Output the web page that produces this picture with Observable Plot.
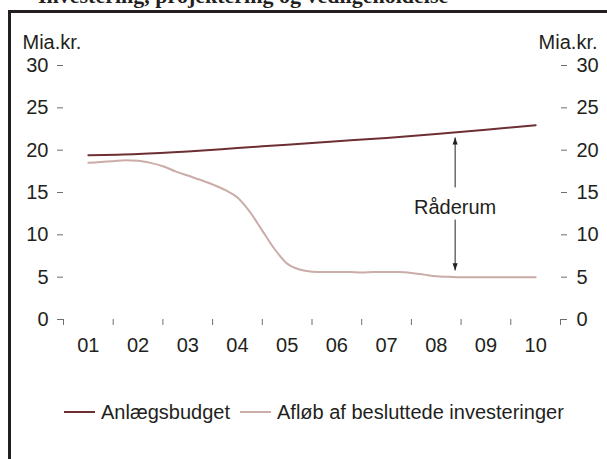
<!DOCTYPE html>
<html>
<head>
<meta charset="utf-8">
<script src="https://cdn.jsdelivr.net/npm/d3@7"></script>
<script src="https://cdn.jsdelivr.net/npm/@observablehq/plot@0.6"></script>
<style>
  html, body { margin: 0; padding: 0; background: #fff; }
  body { width: 607px; height: 459px; overflow: hidden; position: relative;
         font-family: "Liberation Sans", Arial, sans-serif; color: #231f20; }
  #title { position: absolute; left: 38px; top: -15px; font: bold 22px "Liberation Serif", serif;
           line-height: 22px; white-space: nowrap; color: #231f20; }
  #frame { position: absolute; left: 8px; top: 10px; width: 700px; height: 600px;
           border-left: 3px solid #231f20; border-top: 3px solid #231f20; box-sizing: border-box; }
  #chart { position: absolute; left: 0; top: 0; }
  #legend { position: absolute; left: 64px; top: 400px; display: flex; align-items: center;
            font-size: 20px; line-height: 24px; white-space: nowrap; color: #231f20; }
  .item { display: flex; align-items: center; margin-right: 10px; }
  .sw { width: 31px; height: 0; border-top: 2px solid; margin-right: 6px; }
</style>
</head>
<body>
<div id="title"></div>
<div id="frame"></div>
<div id="chart"></div>
<div id="legend"></div>
<script>
// ---- data ----
const titleText = "Investering, projektering og vedligeholdelse";
const unitLabel = "Mia.kr.";
const years = [1, 2, 3, 4, 5, 6, 7, 8, 9, 10];
const yearLabels = ["01", "02", "03", "04", "05", "06", "07", "08", "09", "10"];
const yearBounds = [0.5, 1.5, 2.5, 3.5, 4.5, 5.5, 6.5, 7.5, 8.5, 9.5, 10.5];
const yTicks = [0, 5, 10, 15, 20, 25, 30];

const seriesNames = ["Anlægsbudget", "Afløb af besluttede investeringer"];
const seriesColors = ["#6e2f33", "#caaca8"];

const budgetX = [1, 2, 3, 4, 5, 6, 7, 8, 9, 10];
const budgetY = [19.4, 19.55, 19.85, 20.25, 20.65, 21.05, 21.45, 21.9, 22.4, 22.95];

const afloebX = [1, 1.25, 1.5, 1.75, 2, 2.25, 2.5, 2.75, 3, 3.25, 3.5, 3.75, 4, 4.25, 4.5, 4.75,
                 5, 5.25, 5.5, 5.75, 6, 6.25, 6.5, 6.75, 7, 7.25, 7.5, 7.75, 8, 8.25, 8.5, 8.75,
                 9, 9.25, 9.5, 9.75, 10];
const afloebY = [18.5, 18.6, 18.7, 18.8, 18.75, 18.5, 18.1, 17.5, 17.0, 16.5, 15.95, 15.3, 14.4, 12.7, 10.5, 8.3,
                 6.6, 5.9, 5.65, 5.6, 5.6, 5.6, 5.55, 5.6, 5.6, 5.6, 5.5, 5.3, 5.1, 5.05, 5.0, 5.0,
                 5.0, 5.0, 5.0, 5.0, 5.0];

const annotText = "Råderum";
const annotX = 8.38;
const annotY = 13.2;
const arrowFrom = [15.6, 11.8];
const arrowTo = [21.5, 5.8];

// ---- build tables ----
const budgetRows = budgetX.map((x, i) => ({x, y: budgetY[i], s: seriesNames[0]}));
const afloebRows = afloebX.map((x, i) => ({x, y: afloebY[i], s: seriesNames[1]}));
const arrows = arrowFrom.map((f, i) => ({x: annotX, from: f, to: arrowTo[i]}));

const arrowHead = {
  draw(context, size) {
    const l = Math.sqrt(size);
    context.moveTo(0, 0);
    context.lineTo(-l * 0.36, l);
    context.lineTo(l * 0.36, l);
    context.closePath();
  }
};

const textColor = "#231f20";
const axisColor = "#6d6e71";

const chart = Plot.plot({
  width: 607,
  height: 360,
  marginLeft: 63,
  marginRight: 47,
  marginTop: 65,
  marginBottom: 41,
  style: {fontFamily: '"Liberation Sans", Arial, sans-serif', fontSize: "20px", color: textColor, background: "transparent"},
  x: {domain: [0.5, 10.5]},
  y: {domain: [0, 30]},
  marks: [
    Plot.axisY({anchor: "left", ticks: yTicks, tickSize: 6, tickPadding: 9, line: true, label: null,
                stroke: axisColor, fill: textColor}),
    Plot.axisY({anchor: "right", ticks: yTicks, tickSize: 6, tickPadding: 10, line: true, label: null,
                stroke: axisColor, fill: textColor}),
    Plot.axisX({ticks: yearBounds, tickFormat: () => "", tickSize: 6, line: true, label: null,
                stroke: axisColor}),
    Plot.axisX({ticks: years, tickFormat: d => yearLabels[years.indexOf(d)], tickSize: 0, tickPadding: 18,
                label: null, fill: textColor}),
    Plot.line(afloebRows, {x: "x", y: "y", stroke: seriesColors[1], strokeWidth: 2, curve: "monotone-x"}),
    Plot.line(budgetRows, {x: "x", y: "y", stroke: seriesColors[0], strokeWidth: 2, curve: "monotone-x"}),
    Plot.link(arrows, {x1: "x", x2: "x", y1: "from", y2: "to", stroke: textColor, strokeWidth: 1}),
    Plot.dot(arrows, {x: "x", y: "to", symbol: arrowHead, r: 4, fill: textColor, stroke: null,
                      rotate: d => (d.to > d.from ? 0 : 180)}),
    Plot.text([annotText], {x: annotX, y: annotY, text: d => d, fill: textColor, textAnchor: "middle"}),
    Plot.text([unitLabel], {frameAnchor: "top-left", text: d => d, dx: -41, dy: -23, textAnchor: "start",
                            lineAnchor: "middle", fill: textColor}),
    Plot.text([unitLabel], {frameAnchor: "top-right", text: d => d, dx: 37, dy: -23, textAnchor: "end",
                            lineAnchor: "middle", fill: textColor})
  ]
});
document.getElementById("chart").appendChild(chart);

document.getElementById("title").textContent = titleText;

const legend = document.getElementById("legend");
seriesNames.forEach((name, i) => {
  const item = document.createElement("div");
  item.className = "item";
  const sw = document.createElement("span");
  sw.className = "sw";
  sw.style.borderTopColor = seriesColors[i];
  const lab = document.createElement("span");
  lab.textContent = name;
  item.appendChild(sw);
  item.appendChild(lab);
  legend.appendChild(item);
});
</script>
</body>
</html>
